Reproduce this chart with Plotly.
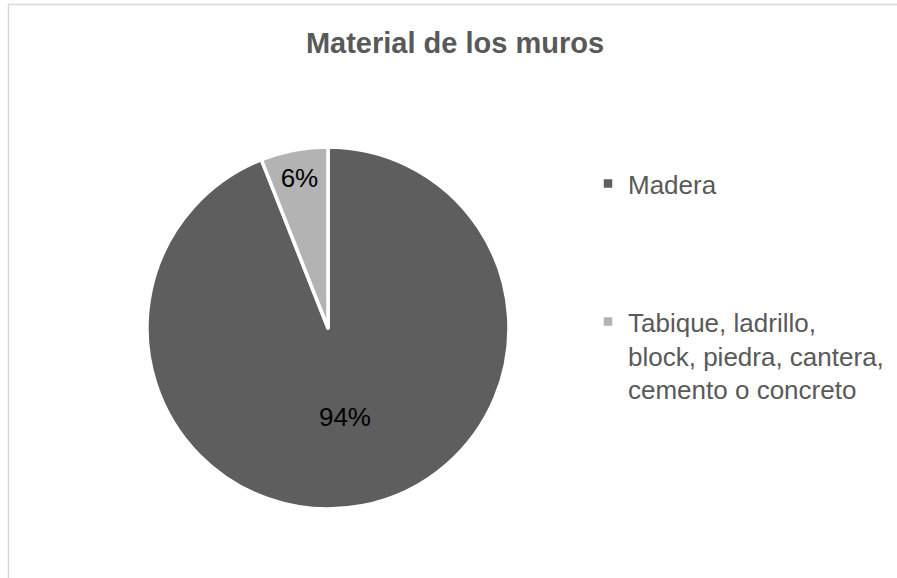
import plotly.graph_objects as go

labels = ["Madera", "Tabique, ladrillo, block, piedra, cantera, cemento o concreto"]
legend_labels = ["Madera<br> <br> <br> ", "Tabique, ladrillo,<br>block, piedra, cantera,<br>cemento o concreto"]
values = [94, 6]
colors = ["#5e5e5e", "#b3b3b3"]
title_text = "Material de los muros"

W, H = 897, 578

fig = go.Figure(
    go.Pie(
        labels=legend_labels,
        values=values,
        sort=False,
        direction="clockwise",
        rotation=0,
        marker=dict(colors=colors, line=dict(color="white", width=3.5)),
        textinfo="percent",
        texttemplate="%{percent:.0%}",
        textposition="inside",
        insidetextorientation="horizontal",
        textfont=dict(family="Liberation Sans, Arial", size=26, color="#000000"),
        hovertemplate="%{value}<extra></extra>",
        domain=dict(x=[147 / W, 509 / W], y=[1 - 509 / H, 1 - 147 / H]),
    )
)

fig.update_layout(
    width=W,
    height=H,
    margin=dict(l=0, r=0, t=0, b=0),
    paper_bgcolor="white",
    plot_bgcolor="white",
    title=dict(
        text="<b>" + title_text + "</b>",
        x=455 / W,
        xanchor="center",
        y=1 - 43 / H,
        yanchor="middle",
        yref="container",
        font=dict(family="Liberation Sans, Arial", size=29, color="#595959"),
    ),
    legend=dict(
        x=588 / W,
        xanchor="left",
        y=1 - 160 / H,
        yanchor="top",
        valign="top",
        font=dict(family="Liberation Sans, Arial", size=26, color="#595959"),
        bgcolor="rgba(0,0,0,0)",
    ),
    shapes=[
        dict(
            type="rect",
            xref="paper",
            yref="paper",
            x0=8.5 / W,
            x1=1.2,
            y0=-0.2,
            y1=1 - 4.5 / H,
            line=dict(color="#d9d9d9", width=1.5),
            fillcolor="rgba(0,0,0,0)",
            layer="below",
        )
    ],
)

fig.write_html(
    "out.html",
    config={"displayModeBar": False},
    post_script="document.body.style.margin='0';document.body.style.overflow='hidden';",
)
